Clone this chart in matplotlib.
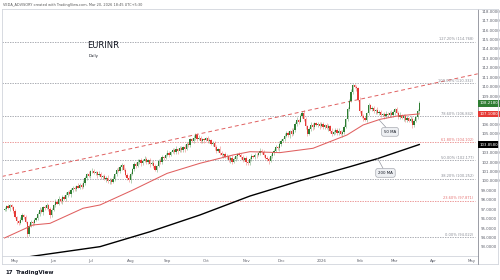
import numpy as np
import pandas as pd
import matplotlib
matplotlib.use("Agg")
import matplotlib.pyplot as plt
import matplotlib.transforms as mtrans
from matplotlib.lines import Line2D

# daily EURINR closes, first bar 2025-04-23
closes = [
    97.00, 97.30, 97.10, 97.40, 97.20, 96.80, 96.20, 95.70, 95.50, 95.90,
    96.40, 96.20, 95.60, 94.40, 95.20, 95.60, 95.50, 95.90, 96.10, 96.50,
    96.90, 96.70, 97.20, 97.10, 97.40, 97.00, 96.40, 96.90, 97.40, 97.80,
    97.60, 98.10, 97.90, 98.30, 98.10, 98.50, 98.80, 98.60, 99.00, 99.30,
    99.10, 99.50, 99.30, 99.60, 99.40, 99.80, 100.30, 100.70, 100.50, 101.00,
    101.10, 100.80, 100.90, 100.60, 100.70, 100.40, 100.50, 100.20, 100.30, 100.00,
    100.10, 99.90, 100.20, 100.70, 101.20, 101.00, 101.50, 101.70, 101.20, 100.60,
    100.30, 100.10, 100.70, 101.30, 101.80, 101.60, 102.00, 102.20, 101.90, 102.10,
    102.30, 102.00, 102.20, 101.80, 101.90, 101.60, 101.20, 101.60, 102.10, 102.00,
    102.50, 102.40, 102.80, 103.00, 102.80, 103.10, 103.30, 103.10, 103.40, 103.20,
    103.50, 103.30, 103.60, 103.40, 103.90, 103.80, 104.40, 104.20, 104.60, 104.90,
    104.40, 104.60, 104.20, 104.40, 104.30, 104.50, 104.20, 104.30, 103.90, 104.00,
    103.60, 103.20, 103.40, 103.00, 102.70, 102.90, 102.50, 102.60, 102.20, 102.40,
    102.00, 102.30, 102.60, 102.90, 102.70, 102.50, 102.20, 102.40, 102.00, 101.90,
    102.30, 102.60, 102.50, 102.80, 102.70, 103.00, 103.20, 103.10, 102.80, 102.40,
    102.30, 102.10, 102.60, 103.00, 103.20, 103.60, 103.50, 103.90, 104.20, 104.40,
    104.80, 105.10, 104.90, 105.30, 105.00, 105.40, 106.00, 106.50, 106.30, 106.90,
    107.20, 106.60, 105.80, 105.00, 105.50, 105.90, 105.70, 106.10, 105.90, 106.00,
    105.80, 106.00, 105.70, 105.90, 105.60, 105.80, 105.30, 105.00, 105.20, 105.40,
    105.10, 105.30, 105.00, 105.20, 105.70, 106.60, 107.60, 108.50, 109.40, 110.20,
    110.00, 109.80, 108.60, 107.40, 106.90, 106.70, 106.50, 107.20, 108.00, 107.60,
    107.70, 107.40, 107.50, 107.20, 107.30, 107.00, 107.10, 106.90, 107.10, 107.00,
    107.20, 107.00, 107.30, 107.60, 107.20, 106.80, 107.00, 106.70, 106.90, 106.50,
    106.70, 106.40, 106.60, 105.90, 106.40, 106.80, 107.40, 108.218,
]
first_open = 96.90
# wick lengths above / below the body, in 0.1 INR
wick_up = [
    2, 1, 2, 1, 2, 1, 2, 1, 2, 3, 2, 1, 2, 1, 2, 3, 1, 2, 1, 2,
    3, 2, 1, 2, 3, 1, 2, 2, 1, 3, 2, 3, 1, 2, 2, 3, 1, 2, 3, 2,
    2, 1, 3, 2, 2, 3, 2, 1, 3, 2, 3, 2, 2, 1, 3, 2, 1, 2, 2, 3,
    2, 2, 3, 1, 2, 3, 2, 2, 1, 2, 2, 3, 2, 1, 2, 2, 3, 1, 2, 2,
    3, 2, 1, 2, 2, 3, 2, 1, 2, 3, 2, 1, 2, 3, 2, 1, 2, 2, 3, 1,
    2, 2, 1, 3, 2, 2, 1, 2, 3, 2, 2, 3, 2, 1, 2, 2, 3, 2, 1, 2,
    2, 2, 1, 3, 2, 1, 2, 3, 2, 2, 3, 2, 2, 1, 2, 3, 2, 1, 2, 2,
    2, 3, 1, 2, 2, 1, 3, 2, 2, 1, 2, 2, 3, 1, 2, 2, 1, 3, 2, 2,
    3, 2, 2, 1, 3, 2, 2, 3, 1, 2, 2, 3, 2, 1, 2, 3, 2, 2, 1, 2,
    2, 2, 3, 1, 2, 2, 1, 3, 2, 2, 2, 3, 1, 2, 2, 1, 2, 2, 3, 1,
    1, 2, 2, 3, 1, 2, 2, 1, 3, 2, 2, 2, 1, 3, 2, 2, 1, 2, 3, 2,
    2, 3, 2, 1, 2, 2, 3, 1, 2, 2, 2, 1, 3, 2, 2, 1, 2, 3,
]
wick_dn = [
    1, 2, 1, 3, 2, 2, 1, 3, 2, 1, 2, 2, 1, 4, 2, 1, 3, 2, 1, 2,
    2, 1, 3, 2, 1, 2, 3, 2, 1, 2, 1, 2, 2, 3, 1, 2, 2, 1, 3, 2,
    2, 2, 1, 2, 3, 1, 2, 2, 1, 2, 2, 1, 2, 3, 1, 2, 2, 1, 3, 2,
    3, 2, 1, 2, 2, 1, 2, 3, 2, 1, 2, 2, 3, 1, 2, 2, 1, 2, 3, 2,
    1, 2, 2, 3, 1, 2, 2, 3, 1, 2, 2, 2, 1, 2, 3, 2, 1, 2, 2, 3,
    1, 2, 2, 3, 1, 2, 2, 1, 2, 3, 2, 1, 2, 2, 3, 1, 2, 2, 1, 2,
    3, 2, 1, 2, 2, 3, 1, 2, 2, 3, 2, 1, 2, 3, 1, 2, 2, 1, 3, 2,
    2, 2, 1, 2, 3, 1, 2, 2, 3, 1, 2, 3, 1, 2, 2, 1, 2, 3, 2, 1,
    2, 1, 2, 3, 2, 1, 2, 2, 3, 1, 2, 2, 3, 2, 1, 2, 3, 2, 1, 2,
    3, 1, 2, 2, 1, 3, 2, 2, 1, 2, 2, 2, 1, 3, 2, 1, 2, 2, 1, 2,
    2, 3, 1, 2, 2, 3, 1, 2, 2, 1, 2, 2, 3, 1, 2, 2, 1, 3, 2, 2,
    1, 2, 2, 3, 1, 2, 2, 1, 3, 2, 2, 2, 1, 3, 2, 1, 2, 2,
]

# moving averages (bar index, value)
ma50_bar = [0, 16.3, 26, 44.9, 54.6, 73.4, 92.9, 111.7, 130.6, 140.3,
            157.4, 176.3, 195.7, 204.9, 214.6, 224.3, 237]
ma50_val = [93.95, 95.33, 95.50, 97.10, 97.45, 99.04, 100.80, 101.87, 102.75, 103.10,
            103.00, 103.46, 104.87, 105.93, 106.53, 106.88, 107.108]
ma200_bar = [5, 17.4, 54.6, 83.1, 111.7, 140.3, 168.9, 197.4, 213.3, 237]
ma200_val = [91.70, 92.05, 93.03, 94.61, 96.39, 98.40, 100.02, 101.51, 102.37, 103.858]

# rising trend line anchors
trend_bar = [0, 270]
trend_val = [100.53, 111.34]

# fibonacci retracement
fib_pct = ["0.00%", "23.60%", "38.20%", "50.00%", "61.80%", "78.60%", "100.00%", "127.20%"]
fib_level = [94.022, 97.871, 100.252, 102.177, 104.102, 106.842, 110.332, 114.768]
fib_red = [False, True, False, False, True, False, False, False]

price_ticks = list(range(93, 119))
month_labels = ["May", "Jun", "Jul", "Aug", "Sep", "Oct", "Nov", "Dec",
                "2026", "Feb", "Mar", "Apr", "May"]

GREEN, RED, INK, AXC, FRAME = "#2e7d32", "#e53935", "#131722", "#5d606b", "#d1d4dc"
FIBC, FIBR, MA50C = "#8a8d96", "#e57373", "#e06060"

W, H = 500, 280
fig = plt.figure(figsize=(W / 100, H / 100), dpi=100, facecolor="white")
plt.rcParams["font.family"] = ["DejaVu Sans"]

L, R, T, B = 2, 477.7, 9, 255.7
ax = fig.add_axes([L / W, 1 - B / H, (R - L) / W, (B - T) / H])
ax.set_facecolor("white")

c = np.array(closes)
o = np.concatenate([[first_open], c[:-1]])
hi = np.maximum(o, c) + np.array(wick_up) * 0.1
lo = np.minimum(o, c) - np.array(wick_dn) * 0.1
xs = np.arange(len(c))
up = c >= o
cols = np.where(up, GREEN, RED)

ax.vlines(xs, lo, hi, colors=cols, lw=0.45, alpha=0.55, zorder=3)
body = np.maximum(np.abs(c - o), 0.05)
ax.bar(xs, body, bottom=np.minimum(o, c), width=0.8, color=cols, lw=0, zorder=4)

# fib levels
bt = mtrans.blended_transform_factory(ax.transAxes, ax.transData)
for pct, lev, red in zip(fib_pct, fib_level, fib_red):
    col = FIBR if red else FIBC
    ax.axhline(lev, xmin=0, xmax=0.995, color=col, lw=0.5, ls=(0, (2, 1.6)), zorder=1)
    ax.text(0.991, lev + 0.06, f"{pct} ({lev:.3f})", transform=bt,
            ha="right", va="bottom", fontsize=2.6, color=col, zorder=5)

# trend line
ax.axline((trend_bar[0], trend_val[0]), (trend_bar[1], trend_val[1]), color=MA50C, lw=0.7,
          ls=(0, (4, 3)), zorder=2)

# moving averages
ax.plot(ma50_bar, ma50_val, color=MA50C, lw=0.75, zorder=5)
ax.plot(ma200_bar, ma200_val, color="black", lw=1.0, zorder=5)

# MA callouts
def callout(txt, bx, by, tx, ty):
    ax.annotate(txt, xy=(tx, ty), xytext=(bx, by), fontsize=2.8, color=INK, ha="center", va="center",
                bbox=dict(boxstyle="round,pad=0.6,rounding_size=0.5", fc="#eef0f3", ec="#9598a1", lw=0.4),
                arrowprops=dict(arrowstyle="-", color="#9598a1", lw=0.5, shrinkA=0, shrinkB=0), zorder=6)

callout("50 MA", 220.3, 105.2, 214.0, np.interp(214.0, ma50_bar, ma50_val))
callout("200 MA", 217.7, 100.85, 213.3, np.interp(213.3, ma200_bar, ma200_val))

ax.set_xlim(-1.43, 270.4)
ax.set_ylim(92.07, 118.23)

dates = pd.bdate_range("2025-04-23", periods=300)
starts = [i for i in range(1, len(dates)) if dates[i].month != dates[i - 1].month][:len(month_labels)]
ax.set_xticks(starts)
ax.set_xticklabels(month_labels)

# price scale: boxes hide the tick labels they sit on
boxes = [(closes[-1], GREEN), (ma50_val[-1], RED), (ma200_val[-1], "black")]
shown = [v for v in price_ticks if all(abs(v - b) > 0.6 for b, _ in boxes)]
ax.yaxis.tick_right()
ax.set_yticks(shown)
ax.set_yticklabels([f"{v:.4f}" for v in shown])
ax.tick_params(axis="both", length=0, labelsize=2.8, labelcolor=AXC)
ax.tick_params(axis="x", pad=2.2)
ax.tick_params(axis="y", pad=2.5)
for s in ["top", "left"]:
    ax.spines[s].set_visible(False)
ax.spines["right"].set_color("#8a8d96")
ax.spines["right"].set_linewidth(0.6)
ax.spines["bottom"].set_color(FRAME)
ax.spines["bottom"].set_linewidth(0.6)

for val, fc in boxes:
    ax.text(1.004, val, f"{val:.4f}", transform=bt, ha="left", va="center", fontsize=2.8, color="white",
            bbox=dict(boxstyle="square,pad=0.3", fc=fc, ec="none"), clip_on=False, zorder=7)

# panel frame
fx = lambda x: x / W
fy = lambda y: 1 - y / H
for xa, ya, xb, yb, col in [(2, 9, 498, 9, FRAME), (2, 9, 2, 264, FRAME), (498, 9, 498, 264, FRAME),
                            (2, 264, 498, 264, FRAME), (R, B, R, 264, "#8a8d96")]:
    fig.add_artist(Line2D([fx(xa), fx(xb)], [fy(ya), fy(yb)], transform=fig.transFigure, color=col, lw=0.6))

fig.text(fx(3), fy(5.3), "VEDA_ADVISORY created with TradingView.com, Mar 20, 2026 18:45 UTC+5:30",
         fontsize=2.5, color="#555", va="center", ha="left")
fig.text(fx(87.5), fy(46), "EURINR", fontsize=6.0, color=INK, va="center", ha="left")
fig.text(fx(89), fy(56.5), "Daily", fontsize=2.8, color=INK, va="center", ha="left")
fig.text(fx(5), fy(272.3), "17", fontsize=4.0, fontweight="bold", color=INK, va="center", ha="left")
fig.text(fx(15.5), fy(272.3), "TradingView", fontsize=4.0, fontweight="bold", color=INK, va="center", ha="left")

fig.savefig("out.png", dpi=100, facecolor="white")
